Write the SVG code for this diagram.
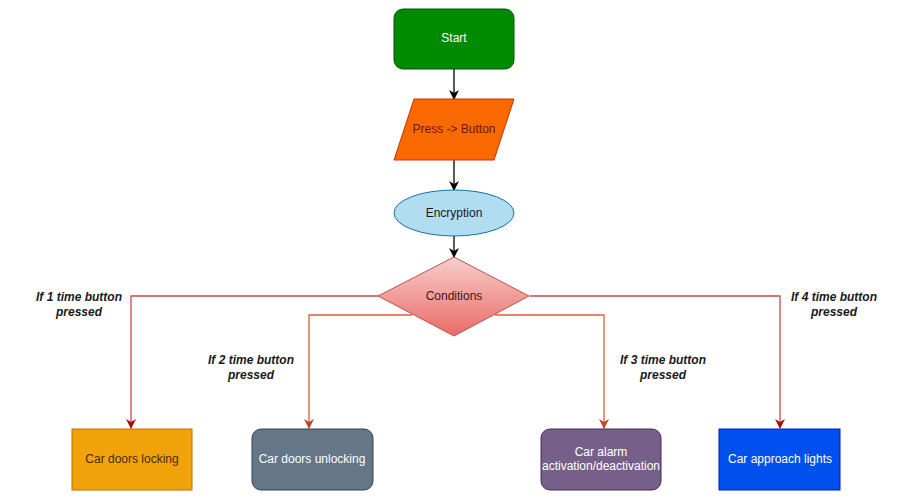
<svg xmlns="http://www.w3.org/2000/svg" width="899" height="502" viewBox="0 0 899 502">
<defs>
<linearGradient id="gDia" x1="0" y1="0" x2="0" y2="1">
<stop offset="0" stop-color="#f8cecc"/>
<stop offset="1" stop-color="#ea6b66"/>
</linearGradient>
<marker id="aBlack" viewBox="0 0 10 10" refX="9" refY="5" markerWidth="10" markerHeight="10" markerUnits="userSpaceOnUse" orient="auto">
<path d="M0,0 L10,5 L0,10 L3,5 Z" fill="#000"/>
</marker>
<marker id="aRed" viewBox="0 0 10 10" refX="9" refY="5" markerWidth="10" markerHeight="10" markerUnits="userSpaceOnUse" orient="auto">
<path d="M0,0 L10,5 L0,10 L3,5 Z" fill="#a50f0f"/>
</marker>
<marker id="aOrange" viewBox="0 0 10 10" refX="9" refY="5" markerWidth="10" markerHeight="10" markerUnits="userSpaceOnUse" orient="auto">
<path d="M0,0 L10,5 L0,10 L3,5 Z" fill="#c0461f"/>
</marker>
</defs>
<style>
text{font-family:"Liberation Sans",Arial,sans-serif;font-size:12px;text-anchor:middle;dominant-baseline:central}
.lbl{font-size:12px;font-weight:bold;font-style:italic;fill:#1a1a1a}
.conn{fill:none;stroke-width:1.3}
.c1{stroke:#c94a4a;marker-end:url(#aRed)}
.c2{stroke:#d9603b;marker-end:url(#aOrange)}
.cb{stroke:#000;marker-end:url(#aBlack)}
</style>
<rect width="899" height="502" fill="#fff"/>
<g id="connectors">
<path class="conn cb" d="M454,69 V99"/>
<path class="conn cb" d="M454,160 V190"/>
<path class="conn cb" d="M454,236 V257"/>
<path class="conn c1" d="M378,296 H131 V428"/>
<path class="conn c2" d="M412,315 H309 V428"/>
<path class="conn c2" d="M495,315 H604 V428"/>
<path class="conn c1" d="M530,296 H780 V428"/>
</g>
<g id="labels">
<text class="lbl" x="79" y="297">If 1 time button</text>
<text class="lbl" x="79" y="312">pressed</text>
<text class="lbl" x="251" y="360">If 2 time button</text>
<text class="lbl" x="251" y="375">pressed</text>
<text class="lbl" x="663" y="360">If 3 time button</text>
<text class="lbl" x="663" y="375">pressed</text>
<text class="lbl" x="834" y="297">If 4 time button</text>
<text class="lbl" x="834" y="312">pressed</text>
</g>
<g id="start">
<rect x="394" y="9" width="120" height="60" rx="9" fill="#008a00" stroke="#005700"/>
<text x="454" y="38" fill="#fff">Start</text>
</g>
<g id="press">
<path d="M414,99 H514 L494,160 H394 Z" fill="#fa6800" stroke="#c73500"/>
<text x="454" y="129" fill="#6b1a00">Press -&gt; Button</text>
</g>
<g id="encryption">
<ellipse cx="454" cy="213" rx="60" ry="23" fill="#b1ddf0" stroke="#10739e"/>
<text x="454" y="213" fill="#1a1a1a">Encryption</text>
</g>
<g id="conditions">
<path d="M454,257 L529,296 L454,336 L378,296 Z" fill="url(#gDia)" stroke="#b85450"/>
<text x="454" y="296" fill="#3a1a1a">Conditions</text>
</g>
<g id="locking">
<rect x="72" y="429" width="120" height="61" fill="#f0a30a" stroke="#bd7000"/>
<text x="132" y="459" fill="#4a2a00">Car doors locking</text>
</g>
<g id="unlocking">
<rect x="252" y="429" width="121" height="61" rx="9" fill="#647687" stroke="#314354"/>
<text x="312" y="459" fill="#fff">Car doors unlocking</text>
</g>
<g id="alarm">
<rect x="541" y="429" width="120" height="61" rx="9" fill="#76608a" stroke="#432d57"/>
<text x="601" y="452" fill="#fff">Car alarm</text>
<text x="601" y="466" fill="#fff">activation/deactivation</text>
</g>
<g id="lights">
<rect x="719" y="429" width="121" height="61" fill="#0050ef" stroke="#001dbc"/>
<text x="780" y="459" fill="#fff">Car approach lights</text>
</g>
</svg>
